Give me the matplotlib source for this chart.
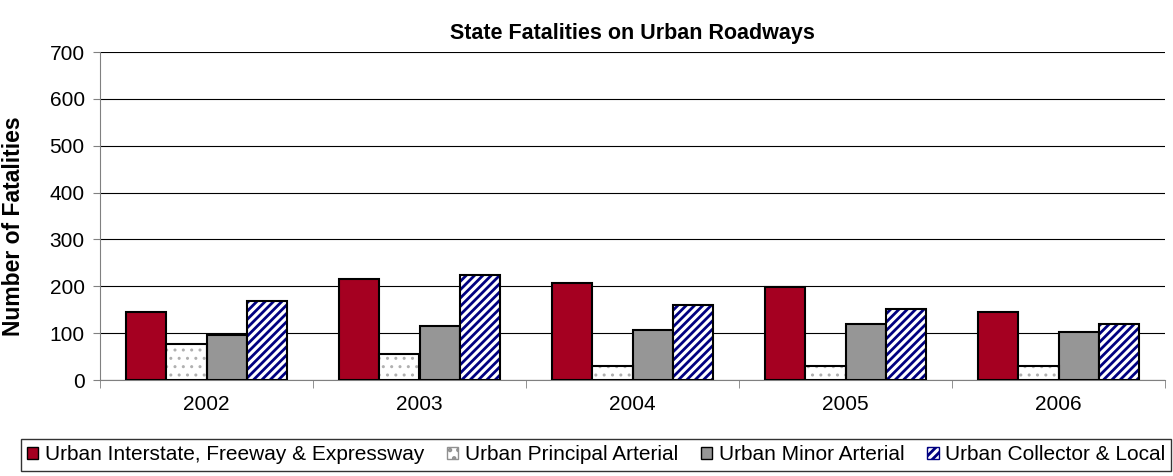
import numpy as np
import matplotlib.pyplot as plt
from matplotlib.patches import Patch

plt.rcParams['font.family'] = ['Liberation Sans', 'DejaVu Sans']
plt.rcParams['hatch.linewidth'] = 2.0

# data
years = ['2002', '2003', '2004', '2005', '2006']
interstate = [146, 215, 206, 198, 146]
principal = [77, 56, 30, 30, 30]
minor = [95, 115, 107, 120, 103]
collector = [168, 224, 160, 151, 120]

series_names = ['Urban Interstate, Freeway & Expressway', 'Urban Principal Arterial',
                'Urban Minor Arterial', 'Urban Collector & Local']

W, H = 1173, 476
fig = plt.figure(figsize=(W / 100, H / 100), dpi=100)
ax = fig.add_axes([100 / W, 1 - 380 / H, 1065 / W, 328 / H])

x = np.arange(len(years))
w = 0.19
offsets = np.array([-1.5, -0.5, 0.5, 1.5]) * w

ax.bar(x + offsets[0], interstate, w, color='#a50021', edgecolor='black', linewidth=1.5, zorder=3)
dots = ax.bar(x + offsets[1], principal, w, color='white', edgecolor='#b0b0b0', hatch='..', linewidth=0, zorder=3)
for p in dots:
    if hasattr(p, 'set_hatch_linewidth'):
        p.set_hatch_linewidth(1.0)
ax.bar(x + offsets[1], principal, w, color='none', edgecolor='black', linewidth=1.5, zorder=4)
ax.bar(x + offsets[2], minor, w, color='#969696', edgecolor='black', linewidth=1.5, zorder=3)
ax.bar(x + offsets[3], collector, w, color='white', edgecolor='#000080', hatch='////', linewidth=0, zorder=3)
ax.bar(x + offsets[3], collector, w, color='none', edgecolor='black', linewidth=1.5, zorder=4)

ax.set_xlim(-0.5, len(years) - 0.5)
ax.set_ylim(0, 700)
ax.set_yticks(range(0, 701, 100))
ax.yaxis.grid(True, color='black', linewidth=0.8)
ax.set_axisbelow(True)
ax.tick_params(axis='y', labelsize=15, length=5, pad=6, direction='out', color='#808080')

# category labels centred, ticks on group boundaries
ax.set_xticks(x)
ax.set_xticklabels(years, fontsize=15)
ax.tick_params(axis='x', which='major', length=0, pad=11)
ax.set_xticks(np.arange(-0.5, len(years)), minor=True)
ax.tick_params(axis='x', which='minor', length=6, color='#808080')

for s in ['top', 'right']:
    ax.spines[s].set_visible(False)
ax.spines['left'].set_color('#808080')
ax.spines['bottom'].set_color('#808080')

fig.text(14 / W, 1 - 226 / H, 'Number of Fatalities', rotation=90,
         ha='center', va='center', fontsize=16.5, fontweight='bold')
fig.text(632 / W, 1 - 33 / H, 'State Fatalities on Urban Roadways',
         ha='center', va='center', fontsize=15.5, fontweight='bold')

handles = [
    Patch(facecolor='#a50021', edgecolor='black'),
    Patch(facecolor='white', edgecolor='#909090', hatch='..'),
    Patch(facecolor='#969696', edgecolor='black'),
    Patch(facecolor='white', edgecolor='#000080', hatch='////'),
]
leg = fig.legend(handles, series_names, loc='upper center', bbox_to_anchor=(596 / W, 1 - 439 / H),
                 ncol=4, fontsize=15, frameon=True, fancybox=False, edgecolor='black',
                 handlelength=0.55, handleheight=0.55, handletextpad=0.3, columnspacing=1.1,
                 borderpad=0.3, borderaxespad=0)
leg.get_frame().set_linewidth(1.0)

fig.savefig('out.png', dpi=100)
